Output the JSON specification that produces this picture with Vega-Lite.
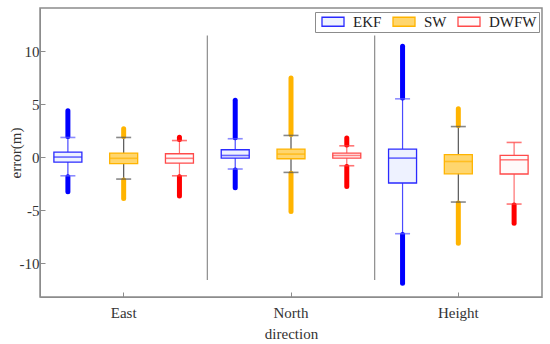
{
  "$schema": "https://vega.github.io/schema/vega-lite/v6.json",
  "width": 502,
  "height": 289,
  "autosize": "none",
  "padding": {"left": 40, "top": 8, "right": 8, "bottom": 47},
  "config": {
    "font": "Liberation Serif",
    "view": {"stroke": "#8c8c8c", "strokeWidth": 1.5},
    "axis": {
      "labelFont": "Liberation Serif", "titleFont": "Liberation Serif",
      "labelFontSize": 15, "titleFontSize": 15, "titleFontWeight": "normal",
      "labelColor": "#333333", "titleColor": "#333333",
      "domainColor": "#8c8c8c", "tickColor": "#8c8c8c", "grid": false
    },
    "legend": {
      "orient": "top-right", "offset": 3.5, "direction": "horizontal",
      "strokeColor": "#8c8c8c", "fillColor": "#ffffff", "padding": 2,
      "symbolType": "M-1,-0.41H1V0.41H-1Z", "symbolSize": 484, "symbolStrokeWidth": 1.3,
      "symbolOffset": 4, "clipHeight": 15,
      "labelFont": "Liberation Serif", "labelFontSize": 15, "labelColor": "#222222",
      "labelOffset": 8, "columnPadding": 6
    }
  },
  "datasets": {
    "boxes": [
      {"dir": "East", "series": "EKF", "lo": -1.75, "q1": -0.45, "med": 0.02, "q3": 0.49, "hi": 1.87},
      {"dir": "East", "series": "SW", "lo": -2.06, "q1": -0.61, "med": -0.1, "q3": 0.4, "hi": 1.87},
      {"dir": "East", "series": "DWFW", "lo": -1.75, "q1": -0.55, "med": -0.1, "q3": 0.33, "hi": 1.58},
      {"dir": "North", "series": "EKF", "lo": -1.11, "q1": -0.08, "med": 0.17, "q3": 0.71, "hi": 1.75},
      {"dir": "North", "series": "SW", "lo": -1.43, "q1": -0.14, "med": 0.3, "q3": 0.77, "hi": 2.06},
      {"dir": "North", "series": "DWFW", "lo": -0.8, "q1": -0.08, "med": 0.17, "q3": 0.4, "hi": 1.08},
      {"dir": "Height", "series": "EKF", "lo": -7.22, "q1": -2.43, "med": -0.08, "q3": 0.77, "hi": 5.52},
      {"dir": "Height", "series": "SW", "lo": -4.23, "q1": -1.56, "med": -0.4, "q3": 0.24, "hi": 2.9},
      {"dir": "Height", "series": "DWFW", "lo": -4.42, "q1": -1.58, "med": -0.24, "q3": 0.17, "hi": 1.4}
    ],
    "outliers": [
      {"dir": "East", "series": "EKF", "from": 1.95, "to": 4.4},
      {"dir": "East", "series": "EKF", "from": -3.25, "to": -1.85},
      {"dir": "East", "series": "SW", "from": 1.95, "to": 2.7},
      {"dir": "East", "series": "SW", "from": -3.9, "to": -2.15},
      {"dir": "East", "series": "DWFW", "from": 1.68, "to": 1.9},
      {"dir": "East", "series": "DWFW", "from": -3.65, "to": -1.85},
      {"dir": "North", "series": "EKF", "from": 1.85, "to": 5.38},
      {"dir": "North", "series": "EKF", "from": -2.87, "to": -1.2},
      {"dir": "North", "series": "SW", "from": 2.15, "to": 7.49},
      {"dir": "North", "series": "SW", "from": -5.13, "to": -1.52},
      {"dir": "North", "series": "DWFW", "from": 1.15, "to": 1.83},
      {"dir": "North", "series": "DWFW", "from": -2.77, "to": -0.88},
      {"dir": "Height", "series": "EKF", "from": 5.6, "to": 10.48},
      {"dir": "Height", "series": "EKF", "from": -11.9, "to": -7.3},
      {"dir": "Height", "series": "SW", "from": 3.0, "to": 4.59},
      {"dir": "Height", "series": "SW", "from": -8.12, "to": -4.33},
      {"dir": "Height", "series": "DWFW", "from": -6.23, "to": -4.5}
    ],
    "separators": [
      {"dir": "North", "lo": -11.6, "hi": 11.5},
      {"dir": "Height", "lo": -11.6, "hi": 11.5}
    ]
  },
  "encoding": {
    "x": {
      "field": "dir", "type": "nominal", "sort": ["East", "North", "Height"],
      "scale": {"paddingInner": 0, "paddingOuter": 0},
      "title": "direction",
      "axis": {"labelAngle": 0, "tickSize": -5, "labelPadding": 13, "titlePadding": 6}
    }
  },
  "layer": [
    {
      "data": {"name": "separators"},
      "mark": {"type": "rule", "color": "#8c8c8c", "strokeWidth": 1.2},
      "encoding": {
        "x": {"field": "dir", "type": "nominal", "sort": ["East", "North", "Height"], "bandPosition": 0},
        "y": {"field": "lo", "type": "quantitative"},
        "y2": {"field": "hi"}
      }
    },
    {
      "data": {"name": "boxes"},
      "mark": {"type": "rule", "strokeWidth": 1.2},
      "encoding": {
        "xOffset": {"field": "series", "type": "nominal", "sort": ["EKF", "SW", "DWFW"], "scale": {"paddingInner": 0, "paddingOuter": 0}},
        "y": {
          "field": "lo", "type": "quantitative",
          "scale": {"domain": [-13.2, 14.1], "nice": false, "zero": false},
          "title": "error(m)",
          "axis": {"values": [-10, -5, 0, 5, 10], "tickSize": -5, "labelPadding": 6, "titlePadding": -4,
                   "labelExpr": "replace(datum.label, '\u2212', '-')"}
        },
        "y2": {"field": "hi"},
        "stroke": {"field": "series", "type": "nominal", "scale": {"domain": ["EKF", "SW", "DWFW"], "range": ["#4a4aff", "#555555", "#ff7070"]}, "legend": null}
      }
    },
    {
      "data": {"name": "outliers"},
      "mark": {"type": "rule", "strokeWidth": 5, "strokeCap": "round"},
      "encoding": {
        "xOffset": {"field": "series", "type": "nominal", "sort": ["EKF", "SW", "DWFW"]},
        "y": {"field": "from", "type": "quantitative"},
        "y2": {"field": "to"},
        "color": {"field": "series", "type": "nominal", "scale": {"domain": ["EKF", "SW", "DWFW"], "range": ["#0000ff", "#ffb400", "#ff0000"]}, "legend": null}
      }
    },
    {
      "data": {"name": "boxes"},
      "mark": {"type": "tick", "size": 15, "thickness": 1.6},
      "encoding": {
        "xOffset": {"field": "series", "type": "nominal", "sort": ["EKF", "SW", "DWFW"]},
        "y": {"field": "hi", "type": "quantitative"},
        "color": {"field": "series", "type": "nominal", "scale": {"domain": ["EKF", "SW", "DWFW"], "range": ["#5a5aff", "#555555", "#ff3a3a"]}, "legend": null}
      }
    },
    {
      "data": {"name": "boxes"},
      "mark": {"type": "tick", "size": 15, "thickness": 1.6},
      "encoding": {
        "xOffset": {"field": "series", "type": "nominal", "sort": ["EKF", "SW", "DWFW"]},
        "y": {"field": "lo", "type": "quantitative"},
        "color": {"field": "series", "type": "nominal", "scale": {"domain": ["EKF", "SW", "DWFW"], "range": ["#5a5aff", "#555555", "#ff3a3a"]}, "legend": null}
      }
    },
    {
      "data": {"name": "boxes"},
      "mark": {"type": "bar", "width": 28, "strokeWidth": 1.3},
      "encoding": {
        "xOffset": {"field": "series", "type": "nominal", "sort": ["EKF", "SW", "DWFW"]},
        "y": {"field": "q1", "type": "quantitative"},
        "y2": {"field": "q3"},
        "fill": {"field": "series", "type": "nominal", "sort": ["EKF", "SW", "DWFW"], "scale": {"domain": ["EKF", "SW", "DWFW"], "range": ["#eef2ff", "#ffd66e", "#fffafa"]}, "title": null},
        "stroke": {"field": "series", "type": "nominal", "sort": ["EKF", "SW", "DWFW"], "scale": {"domain": ["EKF", "SW", "DWFW"], "range": ["#2a2aff", "#ffb400", "#ff4a4a"]}, "title": null}
      }
    },
    {
      "data": {"name": "boxes"},
      "mark": {"type": "tick", "size": 28, "thickness": 1.6},
      "encoding": {
        "xOffset": {"field": "series", "type": "nominal", "sort": ["EKF", "SW", "DWFW"]},
        "y": {"field": "med", "type": "quantitative"},
        "color": {"field": "series", "type": "nominal", "scale": {"domain": ["EKF", "SW", "DWFW"], "range": ["#2a2aff", "#ffb400", "#ff4a4a"]}, "legend": null}
      }
    }
  ],
  "resolve": {"scale": {"color": "independent", "stroke": "independent", "fill": "independent"}}
}
